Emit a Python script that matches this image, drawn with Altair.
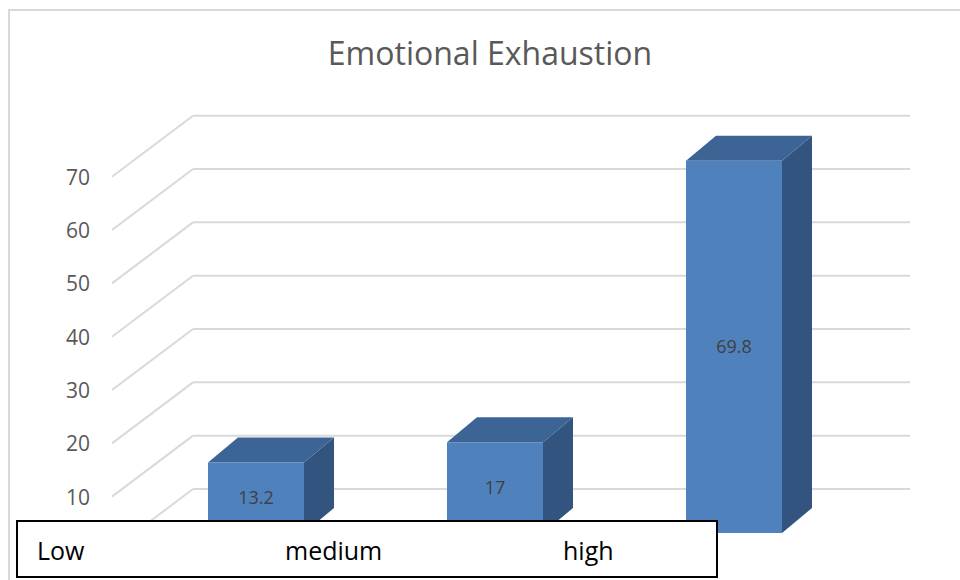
import altair as alt
import pandas as pd

# ---------------- data ----------------
categories = ["Low", "medium", "high"]
values = [13.2, 17, 69.8]
tick_values = [10, 20, 30, 40, 50, 60, 70]
grid_levels = [0, 10, 20, 30, 40, 50, 60, 70]
chart_title = "Emotional Exhaustion"

# ---------------- layout constants (pixel geometry of the faux 3D) ----------------
W, H = 960, 580
PX_PER_UNIT = 5.333          # pixels per value unit
BASE_PX = 533                # y pixel of zero on the bars' front plane
SPACING = 239                # pixels between category centres
FIRST_CENTER = 256           # x pixel of first category centre
HALF = 48 / SPACING          # half bar width (category units)
DX = 30 / SPACING            # bar depth, x (category units)
DY = 25 / PX_PER_UNIT        # bar depth, y (value units)
WALL_FRONT_X = (112 - FIRST_CENTER) / SPACING
WALL_BACK_X = (193 - FIRST_CENTER) / SPACING
WALL_END_X = (910 - FIRST_CENTER) / SPACING
WALL_FRONT_DY = -(550 - BASE_PX) / PX_PER_UNIT
WALL_BACK_DY = (BASE_PX - 489) / PX_PER_UNIT
LABEL_X = (90 - FIRST_CENTER) / SPACING

x_dom = [-FIRST_CENTER / SPACING, (W - FIRST_CENTER) / SPACING]
y_dom = [(BASE_PX - H) / PX_PER_UNIT, BASE_PX / PX_PER_UNIT]
xs = alt.Scale(domain=x_dom, nice=False, zero=False)
ys = alt.Scale(domain=y_dom, nice=False, zero=False)

FRONT = "#4F81BD"
TOP = "#3C6494"
SIDE = "#33547F"
GRID = "#D9D9D9"

# ---------------- tables ----------------
grid_df = pd.DataFrame({
    "lvl": grid_levels,
    "fx": [WALL_FRONT_X] * len(grid_levels),
    "fy": [g + WALL_FRONT_DY for g in grid_levels],
    "bx": [WALL_BACK_X] * len(grid_levels),
    "by": [g + WALL_BACK_DY for g in grid_levels],
    "ex": [WALL_END_X] * len(grid_levels),
})

tick_df = pd.DataFrame({
    "t": tick_values,
    "x": [LABEL_X] * len(tick_values),
    "y": [t + WALL_FRONT_DY for t in tick_values],
    "label": [str(t) for t in tick_values],
})

idx = list(range(len(categories)))
front_df = pd.DataFrame({
    "cat": categories,
    "x0": [i - HALF for i in idx],
    "x1": [i + HALF for i in idx],
    "y0": [0.0] * len(idx),
    "v": values,
    "mid": [v / 2 for v in values],
    "xc": [float(i) for i in idx],
    "label": ["13.2", "17", "69.8"],
})

side_rows, top_rows = [], []
for i, c, v in zip(idx, categories, values):
    side_rows.append({"cat": c, "x": i + HALF, "lo": 0.0, "hi": v})
    side_rows.append({"cat": c, "x": i + HALF + DX, "lo": DY, "hi": v + DY})
    top_rows.append({"cat": c, "y": v, "xa": i - HALF, "xb": i + HALF})
    top_rows.append({"cat": c, "y": v + DY, "xa": i - HALF + DX, "xb": i + HALF + DX})
side_df = pd.DataFrame(side_rows)
top_df = pd.DataFrame(top_rows)

label_px = [37, 285, 563]
legend_df = pd.DataFrame({"cat": categories, "px": label_px})

# ---------------- layers ----------------
frame = alt.Chart(pd.DataFrame({"a": [0]})).mark_rect(
    fill="white", stroke=GRID, strokeWidth=2
).encode(x=alt.value(9), x2=alt.value(W + 5), y=alt.value(10), y2=alt.value(H + 5))

diag = alt.Chart(grid_df).mark_rule(color=GRID, strokeWidth=2).encode(
    x=alt.X("fx:Q", scale=xs, axis=None), y=alt.Y("fy:Q", scale=ys, axis=None),
    x2="bx:Q", y2="by:Q")
back = alt.Chart(grid_df).mark_rule(color=GRID, strokeWidth=2).encode(
    x=alt.X("bx:Q", scale=xs, axis=None), y=alt.Y("by:Q", scale=ys, axis=None),
    x2="ex:Q")

ticks = alt.Chart(tick_df).mark_text(
    align="right", baseline="middle", font="Open Sans", fontSize=21, color="#595959", dy=2
).encode(x=alt.X("x:Q", scale=xs, axis=None), y=alt.Y("y:Q", scale=ys, axis=None), text="label:N")

side = alt.Chart(side_df).mark_area(color=SIDE, orient="vertical").encode(
    x=alt.X("x:Q", scale=xs, axis=None), y=alt.Y("hi:Q", scale=ys, axis=None), y2="lo:Q",
    detail="cat:N")
top = alt.Chart(top_df).mark_area(color=TOP, orient="horizontal").encode(
    y=alt.Y("y:Q", scale=ys, axis=None), x=alt.X("xa:Q", scale=xs, axis=None), x2="xb:Q",
    detail="cat:N")
front = alt.Chart(front_df).mark_rect(color=FRONT).encode(
    x=alt.X("x0:Q", scale=xs, axis=None), x2="x1:Q",
    y=alt.Y("y0:Q", scale=ys, axis=None), y2="v:Q")
vlabels = alt.Chart(front_df).mark_text(
    font="Open Sans", fontSize=18, color="#404040", baseline="middle", dy=1
).encode(x=alt.X("xc:Q", scale=xs, axis=None), y=alt.Y("mid:Q", scale=ys, axis=None), text="label:N")

legend_box = alt.Chart(pd.DataFrame({"a": [0]})).mark_rect(
    fill="white", stroke="black", strokeWidth=2
).encode(x=alt.value(17), x2=alt.value(717), y=alt.value(521), y2=alt.value(577))
legend_text = alt.Chart(legend_df).mark_text(
    align="left", baseline="middle", font="Open Sans", fontSize=25, color="black"
).encode(x=alt.X("px:Q", scale=alt.Scale(domain=[0, W], range=[0, W]), axis=None),
         y=alt.value(552), text="cat:N")

title = alt.Chart(pd.DataFrame({"t": [chart_title]})).mark_text(
    font="Open Sans", fontSize=32, color="#595959", align="center", baseline="middle"
).encode(x=alt.value(490), y=alt.value(55), text="t:N")

chart = alt.layer(
    frame, diag, back, ticks, side, top, front, vlabels, legend_box, legend_text, title
).resolve_scale(x="independent").properties(
    width=W, height=H, autosize="none", padding=0, background="white"
).configure_view(stroke=None)

chart.save("out.html", embed_options={"renderer": "svg", "actions": False})
